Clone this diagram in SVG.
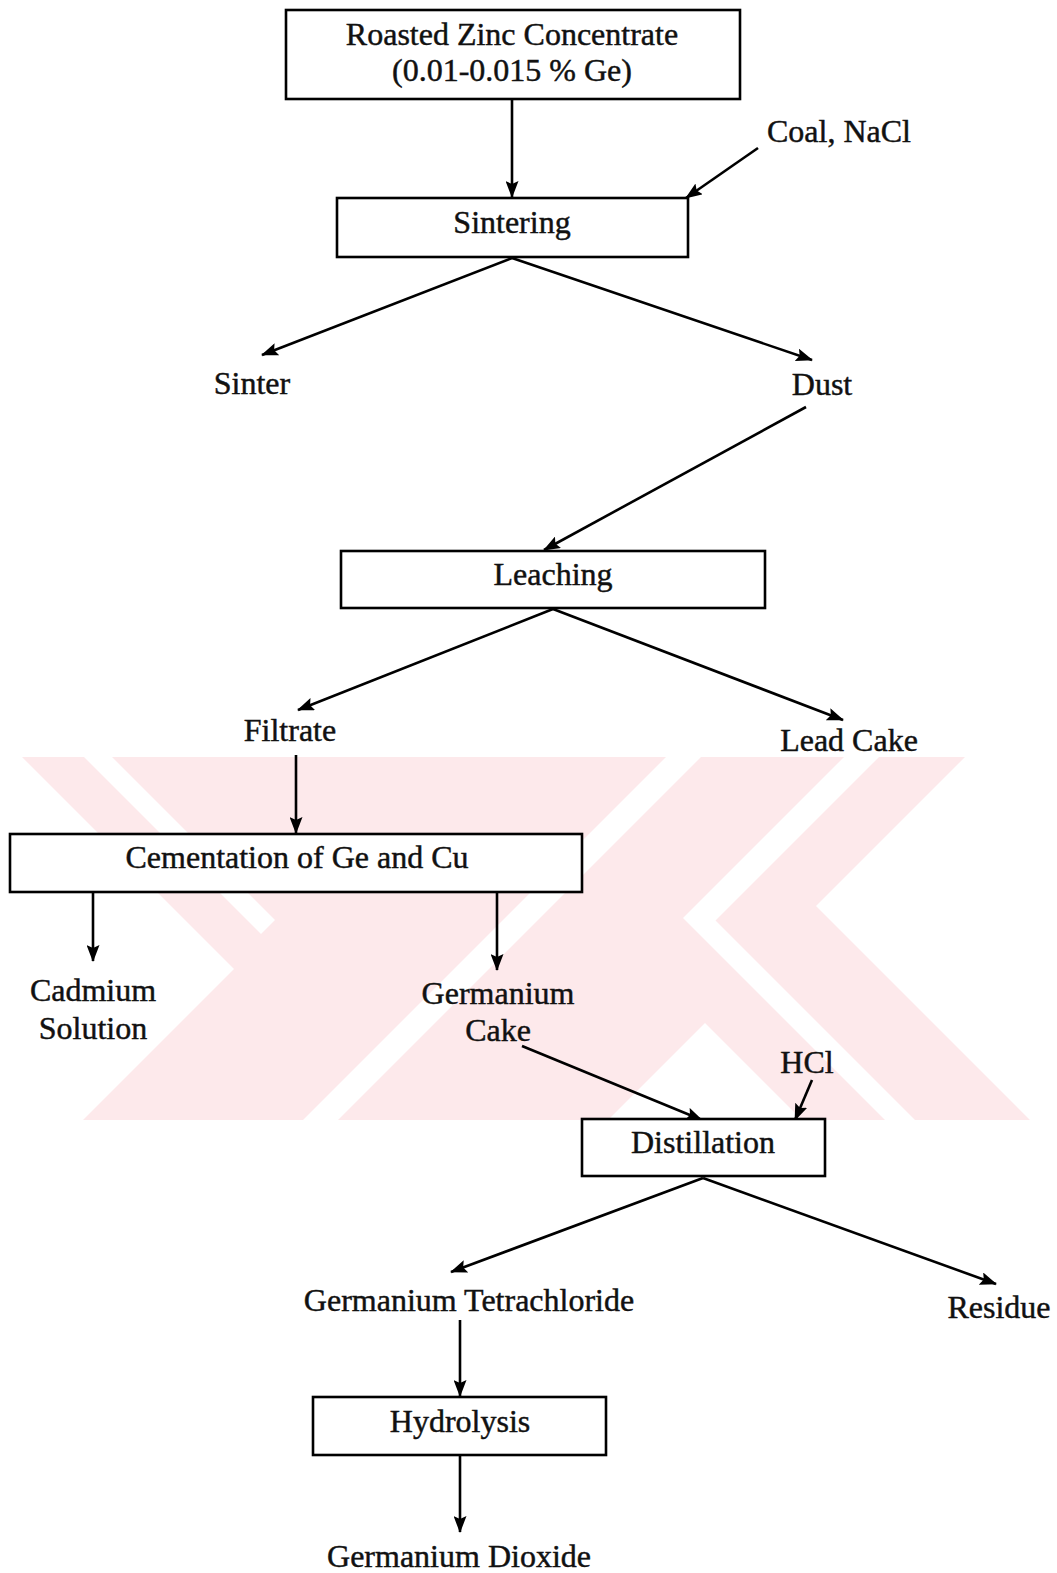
<svg xmlns="http://www.w3.org/2000/svg" width="1057" height="1573" viewBox="0 0 1057 1573">
<style>
  .box{fill:#fff;stroke:#000;stroke-width:2.6}
  .lbl{font-family:"Liberation Serif","Times New Roman",serif;font-size:32px;fill:#111;stroke:#111;stroke-width:0.45;text-anchor:middle}
  .con{fill:none;stroke:#000;stroke-width:2.6}
  .wm{fill:#fde9eb}
  .wmw{fill:#fff}
</style>
<defs>
  <marker id="ah" markerWidth="17" markerHeight="13" refX="16" refY="6.5" orient="auto" markerUnits="userSpaceOnUse">
    <path d="M0,0 L17,6.5 L0,13 L3,6.5 z" fill="#000"/>
  </marker>
  <clipPath id="wmclip">
    <polygon points="22,757 965,757 816,906 1030,1120 83,1120 234,969"/>
  </clipPath>
</defs>
<rect width="1057" height="1573" fill="#fff"/>
<g id="watermark" clip-path="url(#wmclip)">
  <rect x="0" y="757" width="1057" height="363" class="wm"/>
  <polygon class="wmw" points="27,700 55,700 275,920 261,934"/>
  <polygon class="wmw" points="723,700 758,700 278,1180 243,1180"/>
  <polygon class="wmw" points="901,700 683,918 945,1180 975,1180 715.5,920.5 936,700"/>
  <polygon class="wmw" points="705,1023 608,1120 802,1120"/>
</g>
<g id="connectors">
  <line class="con" x1="512" y1="99" x2="512" y2="197" marker-end="url(#ah)"/>
  <line class="con" x1="758" y1="148" x2="686" y2="198" marker-end="url(#ah)"/>
  <line class="con" x1="512" y1="258" x2="262" y2="355" marker-end="url(#ah)"/>
  <line class="con" x1="512" y1="258" x2="812" y2="360" marker-end="url(#ah)"/>
  <line class="con" x1="806" y1="407" x2="544" y2="550" marker-end="url(#ah)"/>
  <line class="con" x1="553" y1="609" x2="298" y2="710" marker-end="url(#ah)"/>
  <line class="con" x1="553" y1="609" x2="843" y2="720" marker-end="url(#ah)"/>
  <line class="con" x1="296" y1="755" x2="296" y2="833" marker-end="url(#ah)"/>
  <line class="con" x1="93" y1="893" x2="93" y2="961" marker-end="url(#ah)"/>
  <line class="con" x1="497" y1="893" x2="497" y2="970" marker-end="url(#ah)"/>
  <line class="con" x1="522" y1="1046" x2="702" y2="1120" marker-end="url(#ah)"/>
  <line class="con" x1="812" y1="1080" x2="795" y2="1120" marker-end="url(#ah)"/>
  <line class="con" x1="703" y1="1178" x2="451" y2="1272" marker-end="url(#ah)"/>
  <line class="con" x1="703" y1="1178" x2="996" y2="1284" marker-end="url(#ah)"/>
  <line class="con" x1="460" y1="1320" x2="460" y2="1396" marker-end="url(#ah)"/>
  <line class="con" x1="460" y1="1456" x2="460" y2="1532" marker-end="url(#ah)"/>
</g>
<g id="roasted">
  <rect class="box" x="286" y="10" width="454" height="89"/>
  <text class="lbl" x="512" y="45">Roasted Zinc Concentrate</text>
  <text class="lbl" x="512" y="81">(0.01-0.015 % Ge)</text>
</g>
<g id="coal">
  <text class="lbl" x="839" y="142">Coal, NaCl</text>
</g>
<g id="sintering">
  <rect class="box" x="337" y="198" width="351" height="59"/>
  <text class="lbl" x="512" y="233">Sintering</text>
</g>
<g id="sinter">
  <text class="lbl" x="252" y="394">Sinter</text>
</g>
<g id="dust">
  <text class="lbl" x="822" y="395">Dust</text>
</g>
<g id="leaching">
  <rect class="box" x="341" y="551" width="424" height="57"/>
  <text class="lbl" x="553" y="585">Leaching</text>
</g>
<g id="filtrate">
  <text class="lbl" x="290" y="741">Filtrate</text>
</g>
<g id="leadcake">
  <text class="lbl" x="849" y="751">Lead Cake</text>
</g>
<g id="cementation">
  <rect class="box" x="10" y="834" width="572" height="58"/>
  <text class="lbl" x="297" y="868">Cementation of Ge and Cu</text>
</g>
<g id="cadmium">
  <text class="lbl" x="93" y="1001">Cadmium</text>
  <text class="lbl" x="93" y="1039">Solution</text>
</g>
<g id="gecake">
  <text class="lbl" x="498" y="1004">Germanium</text>
  <text class="lbl" x="498" y="1041">Cake</text>
</g>
<g id="hcl">
  <text class="lbl" x="807" y="1073">HCl</text>
</g>
<g id="distillation">
  <rect class="box" x="582" y="1119" width="243" height="57"/>
  <text class="lbl" x="703" y="1153">Distillation</text>
</g>
<g id="getetra">
  <text class="lbl" x="469" y="1311">Germanium Tetrachloride</text>
</g>
<g id="residue">
  <text class="lbl" x="999" y="1318">Residue</text>
</g>
<g id="hydrolysis">
  <rect class="box" x="313" y="1397" width="293" height="58"/>
  <text class="lbl" x="460" y="1432">Hydrolysis</text>
</g>
<g id="gedioxide">
  <text class="lbl" x="459" y="1567">Germanium Dioxide</text>
</g>
</svg>
